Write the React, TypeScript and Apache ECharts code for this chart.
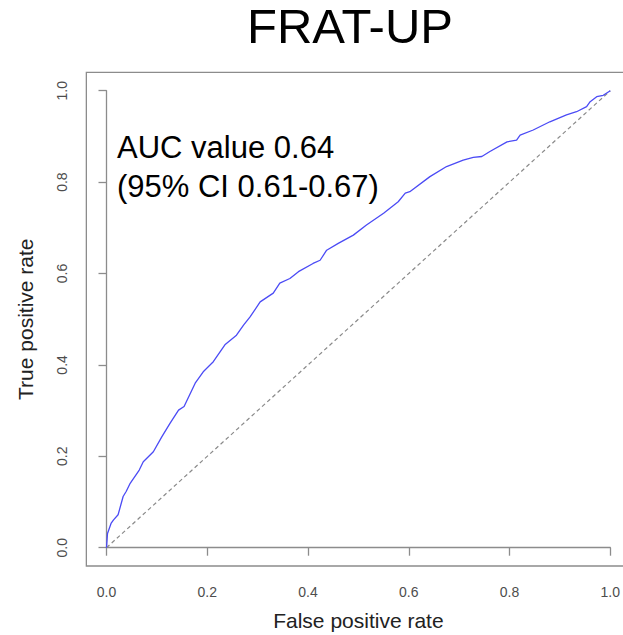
import React, { useEffect, useRef } from "react";
import * as echarts from "echarts";

const chartTitle = "FRAT-UP";
const xAxisTitle = "False positive rate";
const yAxisTitle = "True positive rate";
const aucLines = ["AUC value 0.64", "(95% CI 0.61-0.67)"];

const rocFpr = [
  0, 0.002, 0.009, 0.014, 0.023, 0.033, 0.039, 0.047, 0.065, 0.073, 0.093, 0.11,
  0.126, 0.143, 0.154, 0.176, 0.192, 0.212, 0.235, 0.258, 0.272, 0.285, 0.305,
  0.331, 0.344, 0.364, 0.381, 0.41, 0.424, 0.437, 0.46, 0.49, 0.516, 0.55,
  0.579, 0.593, 0.602, 0.642, 0.675, 0.708, 0.728, 0.745, 0.761, 0.795, 0.814,
  0.821, 0.847, 0.88, 0.913, 0.933, 0.953, 0.96, 0.973, 0.986, 1,
];
const rocTpr = [
  0, 0.031, 0.053, 0.061, 0.072, 0.112, 0.123, 0.141, 0.17, 0.188, 0.21, 0.243,
  0.272, 0.301, 0.309, 0.36, 0.385, 0.407, 0.444, 0.465, 0.487, 0.505, 0.538,
  0.557, 0.579, 0.589, 0.604, 0.622, 0.629, 0.651, 0.666, 0.684, 0.706, 0.732,
  0.757, 0.776, 0.779, 0.812, 0.834, 0.848, 0.854, 0.856, 0.867, 0.888, 0.892,
  0.903, 0.914, 0.932, 0.947, 0.954, 0.965, 0.976, 0.987, 0.99, 1,
];
const chanceLine = [
  [0, 0],
  [1, 1],
];

const FONT = "'Liberation Sans', Arial, Helvetica, sans-serif";

export default function App() {
  const ref = useRef<HTMLDivElement>(null);

  useEffect(() => {
    if (!ref.current) return;
    const chart = echarts.init(ref.current, null, { renderer: "svg" });
    const gridLeft = 106.5;
    const gridTop = 90.7;
    const gridW = 503.8;
    const gridH = 457;
    const padX = 0.04 * gridW;
    const padY = 0.04 * gridH;

    chart.setOption({
      animation: false,
      backgroundColor: "#ffffff",
      grid: {
        left: gridLeft,
        top: gridTop,
        width: gridW,
        height: gridH,
        containLabel: false,
        outerBoundsMode: "none",
      },
      xAxis: {
        type: "value",
        min: 0,
        max: 1,
        interval: 0.2,
        offset: padY,
        name: xAxisTitle,
        nameLocation: "middle",
        nameGap: 44,
        nameTextStyle: { fontFamily: FONT, fontSize: 21, color: "#222" },
        axisLine: { show: true, lineStyle: { color: "#8c8c8c", width: 1.3 } },
        axisTick: { show: true, length: 8, lineStyle: { color: "#8c8c8c", width: 1.3 } },
        axisLabel: {
          margin: 19,
          fontFamily: FONT,
          fontSize: 14,
          color: "#4d4d4d",
          formatter: (v: number) => v.toFixed(1),
        },
        splitLine: { show: false },
      },
      yAxis: {
        type: "value",
        min: 0,
        max: 1,
        interval: 0.2,
        offset: padX,
        name: yAxisTitle,
        nameLocation: "middle",
        nameGap: 50,
        nameTextStyle: { fontFamily: FONT, fontSize: 21, color: "#222" },
        axisLine: { show: true, lineStyle: { color: "#8c8c8c", width: 1.3 } },
        axisTick: { show: true, length: 8, lineStyle: { color: "#8c8c8c", width: 1.3 } },
        axisLabel: {
          margin: 17,
          rotate: 90,
          fontFamily: FONT,
          fontSize: 14,
          color: "#4d4d4d",
          formatter: (v: number) => v.toFixed(1),
        },
        splitLine: { show: false },
      },
      graphic: [
        {
          type: "rect",
          silent: true,
          shape: {
            x: gridLeft - padX,
            y: gridTop - padY,
            width: gridW + 2 * padX,
            height: gridH + 2 * padY,
          },
          style: { fill: "none", stroke: "#8c8c8c", lineWidth: 1.3 },
        },
        {
          type: "text",
          x: 350,
          y: 25.5,
          style: {
            text: chartTitle,
            fontFamily: FONT,
            fontSize: 49,
            fill: "#000",
            align: "center",
            verticalAlign: "middle",
          },
        },
        ...aucLines.map((t, i) => ({
          type: "text",
          x: 117,
          y: 147.6 + i * 38.4,
          style: {
            text: t,
            fontFamily: FONT,
            fontSize: 31,
            fill: "#000",
            align: "left",
            verticalAlign: "middle",
          },
        })),
      ],
      series: [
        {
          type: "line",
          data: chanceLine,
          symbol: "none",
          silent: true,
          lineStyle: { color: "#8a8a8a", width: 1.2, type: [4, 3] },
          z: 2,
        },
        {
          type: "line",
          data: rocFpr.map((x, i) => [x, rocTpr[i]]),
          symbol: "none",
          silent: true,
          lineStyle: { color: "#4b4bf5", width: 1.3 },
          z: 3,
        },
      ],
    });

    return () => chart.dispose();
  }, []);

  return (
    <div
      ref={ref}
      style={{ position: "fixed", left: 0, top: 0, width: 623, height: 635 }}
    />
  );
}
